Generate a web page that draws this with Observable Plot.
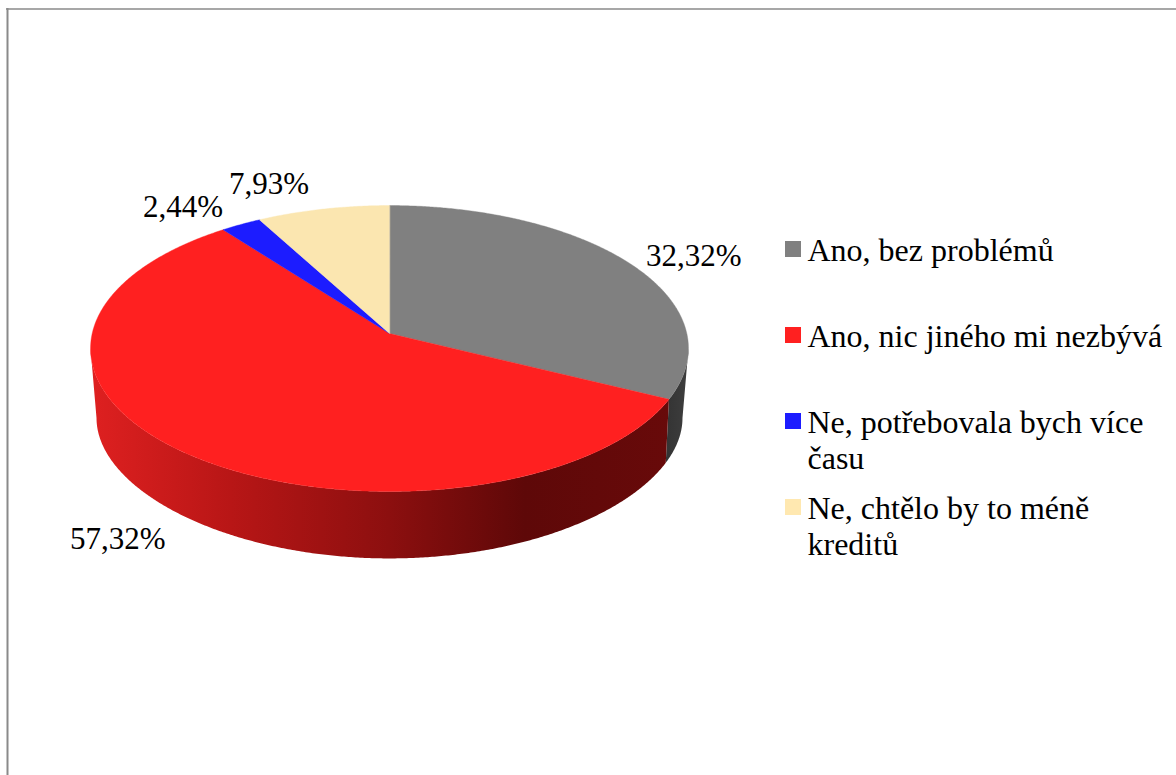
<!DOCTYPE html>
<html lang="cs">
<head>
<meta charset="utf-8">
<style>html,body{margin:0;padding:0;background:#fff}svg{display:block}</style>
<script src="https://cdn.jsdelivr.net/npm/d3@7"></script>
<script src="https://cdn.jsdelivr.net/npm/@observablehq/plot@0.6"></script>
</head>
<body>
<div id="chart"></div>
<script>
const categories = ["Ano, bez problémů", "Ano, nic jiného mi nezbývá", "Ne, potřebovala bych více\nčasu", "Ne, chtělo by to méně\nkreditů"];
const values = [32.32, 57.32, 2.44, 7.93];
const sliceColors = ["#808080", "#ff2020", "#1c1cff", "#fbe6b0"];
const keyColors = ["#808080", "#ff2020", "#1c1cff", "#ffe8b0"];

const W = 1176, H = 775;
const cx = 389, deg = Math.PI / 180;
// Projection of the disc: perspective circles for the top face and the base.
const topFace = {y0: 333, R: 297.3, H: 141.4, k: 0.105, kx: 0.105};
const baseFace = {y0: 400.5, R: 290.5, H: 127.5, k: 0.19, kx: 0.13};
const project = (f, a) => {
  const X = Math.sin(a), Y = Math.cos(a);
  return {x: cx + f.R * X / (1 + f.kx * Y), y: f.y0 - f.H * Y / (1 + f.k * Y)};
};
const rightEdge = f => Math.acos(-f.kx);
const leftEdge = f => 2 * Math.PI - Math.acos(-f.kx);
const arcs = d3.pie().sort(null).startAngle(0).endAngle(2 * Math.PI)(values);
const arcAngles = (a0, a1) => {
  const n = Math.max(2, Math.ceil((a1 - a0) / (0.4 * deg)));
  return d3.range(n + 1).map(j => a0 + (a1 - a0) * j / n);
};

// Top face of each slice, a closed outline from the apex.
const faceRows = arcs.flatMap((d, i) => [
  {x: cx, y: topFace.y0, id: "face" + i, color: sliceColors[i]},
  ...arcAngles(d.startAngle, d.endAngle).map(a => ({...project(topFace, a), id: "face" + i, color: sliceColors[i]}))
]);

// Outer wall: along the top rim, then back along the base rim, out to the disc's silhouette.
const wallOutline = (topFrom, topTo, baseFrom, baseTo) => [
  ...arcAngles(topFrom, topTo).map(a => project(topFace, a)),
  ...arcAngles(baseFrom, baseTo).reverse().map(a => project(baseFace, a))
];
const grayWall = wallOutline(rightEdge(topFace), arcs[0].endAngle, rightEdge(baseFace), arcs[0].endAngle);
const redWall = wallOutline(arcs[1].startAngle, leftEdge(topFace), arcs[1].startAngle, leftEdge(baseFace));
const redStops = [[92, "#de2020"], [230, "#b81616"], [389, "#8c0f0f"], [524, "#5e0808"], [670, "#680a0a"]];
const grayStops = [[664, "#333333"], [684, "#3c3c3c"]];

// Percentage labels sit beside the middle of their slice.
const labelNudge = [[65, -7], [-66, 87], [-58, -17], [-54, -25]];
const labelRows = arcs.map((d, i) => {
  const p = project(topFace, (d.startAngle + d.endAngle) / 2);
  return {x: p.x + labelNudge[i][0], y: p.y + labelNudge[i][1], text: values[i].toFixed(2).replace(".", ",") + "%"};
});

const legendRows = categories.map((name, i) => ({name, color: keyColors[i], y: 241 + 86 * i}));
const serif = "'Liberation Serif', 'Times New Roman', serif";

const chart = Plot.plot({
  width: W, height: H,
  margin: 0,
  style: {background: "#fff"},
  x: {domain: [0, W], range: [0, W], axis: null},
  y: {domain: [0, H], range: [0, H], axis: null},
  color: {type: "identity"},
  marks: [
    Plot.ruleX([7], {y1: 8, y2: H, stroke: "#8a8a8a", strokeWidth: 2}),
    Plot.ruleY([8.5], {x1: 6, x2: W, stroke: "#8a8a8a", strokeWidth: 1.5}),
    Plot.line(grayWall, {x: "x", y: "y", fill: "url(#grayWall)", stroke: "none", curve: "linear-closed"}),
    Plot.line(redWall, {x: "x", y: "y", fill: "url(#redWall)", stroke: "none", curve: "linear-closed"}),
    Plot.line(faceRows, {x: "x", y: "y", z: "id", fill: "color", stroke: "color", strokeWidth: 0.4, curve: "linear-closed"}),
    Plot.text(labelRows, {x: "x", y: "y", text: "text", fontFamily: serif, fontSize: 31, fill: "#000"}),
    Plot.rect(legendRows, {x1: () => 785, x2: () => 801, y1: "y", y2: d => d.y + 16, fill: "color"}),
    Plot.text(legendRows, {x: () => 807, y: "y", text: "name", textAnchor: "start", lineAnchor: "top", lineHeight: 1.13, dy: -6, fontFamily: serif, fontSize: 32, fill: "#000"})
  ]
});

// Horizontal shading of the walls, placed through the chart's own x scale.
const defs = d3.select(chart).insert("defs", ":first-child");
const addGradient = (id, stops) => {
  const sx = chart.scale("x");
  const lo = stops[0][0], hi = stops[stops.length - 1][0];
  const g = defs.append("linearGradient").attr("id", id).attr("gradientUnits", "userSpaceOnUse")
    .attr("x1", sx.apply(lo)).attr("x2", sx.apply(hi)).attr("y1", 0).attr("y2", 0);
  stops.forEach(([x, c]) => g.append("stop").attr("offset", (x - lo) / (hi - lo)).attr("stop-color", c));
};
addGradient("redWall", redStops);
addGradient("grayWall", grayStops);
document.getElementById("chart").append(chart);
</script>
</body>
</html>
